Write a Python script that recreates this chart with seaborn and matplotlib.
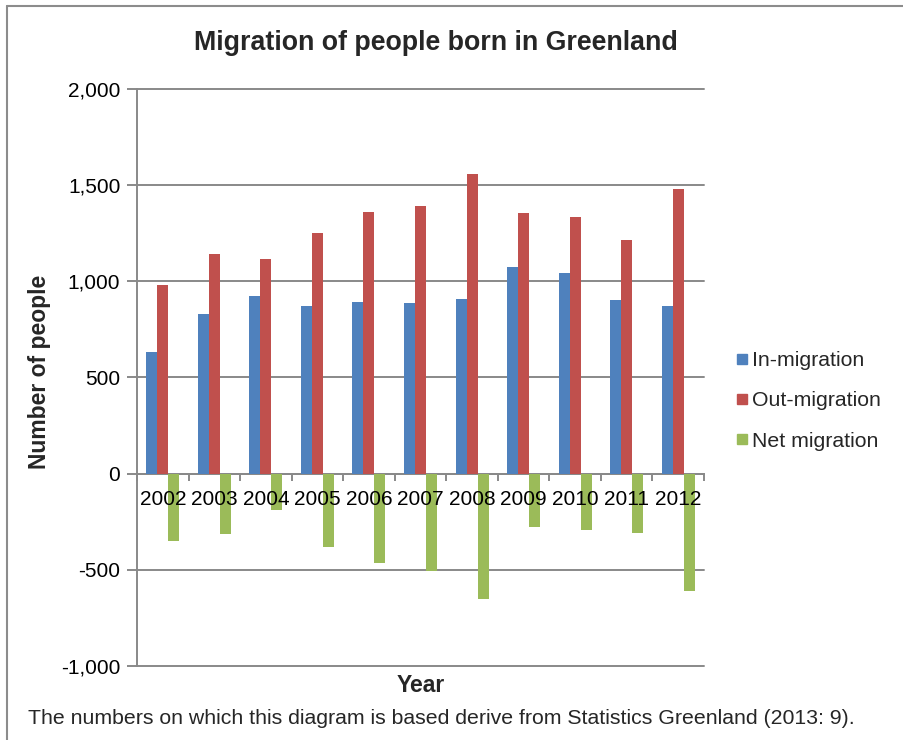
import matplotlib
matplotlib.use("Agg")
import matplotlib.pyplot as plt
from matplotlib.lines import Line2D
import matplotlib.transforms as mtransforms
import seaborn as sns
import pandas as pd
import numpy as np

years = ["2002", "2003", "2004", "2005", "2006", "2007", "2008", "2009", "2010", "2011", "2012"]
in_migration = [630, 827, 924, 872, 891, 886, 906, 1076, 1043, 903, 872]
out_migration = [982, 1140, 1114, 1252, 1358, 1392, 1558, 1353, 1334, 1214, 1481]
net_migration = [-352, -313, -190, -380, -467, -506, -652, -277, -291, -311, -609]
series_names = ["In-migration", "Out-migration", "Net migration"]
colors = ["#4F81BD", "#C0504D", "#9BBB59"]
y_ticks = [-1000, -500, 0, 500, 1000, 1500, 2000]

df = pd.DataFrame({
    "Year": years * 3,
    "Series": [series_names[0]] * len(years) + [series_names[1]] * len(years) + [series_names[2]] * len(years),
    "Value": in_migration + out_migration + net_migration,
})

sns.set_theme(style="white")
plt.rcParams["font.family"] = ["Liberation Sans", "DejaVu Sans"]

W, H = 904, 740
fig = plt.figure(figsize=(W / 100, H / 100), dpi=100)
left, right, top, bottom = 137, 704, 88.7, 666
ax = fig.add_axes([left / W, 1 - bottom / H, (right - left) / W, (bottom - top) / H])

sns.barplot(data=df, x="Year", y="Value", hue="Series", hue_order=series_names,
            palette=colors, width=0.64, saturation=1, ax=ax, legend=False,
            edgecolor="none", linewidth=0)

grid_col = "#898989"
ax.set_ylim(-1000, 2000)
ax.set_xlim(-0.5, len(years) - 0.5)
ax.set_yticks(y_ticks)
ax.set_yticklabels([f"{v:,}" for v in y_ticks], fontsize=15, color="black")
ax.yaxis.grid(True, color=grid_col, linewidth=1.4)
ax.xaxis.grid(False)
ax.set_axisbelow(True)
for gl in ax.yaxis.get_gridlines():
    gl.set_clip_on(False)

ax.spines["top"].set_visible(False)
ax.spines["right"].set_visible(False)
ax.spines["left"].set_color(grid_col)
ax.spines["left"].set_linewidth(1.4)
ax.spines["bottom"].set_position(("data", 0))
ax.spines["bottom"].set_color(grid_col)
ax.spines["bottom"].set_linewidth(1.4)
ax.spines["bottom"].set_zorder(0.5)

ax.tick_params(axis="y", which="major", direction="out", length=7, width=1.4, color=grid_col, pad=5, left=True)
ax.set_xticks(np.arange(len(years) + 1) - 0.5)
ax.set_xticklabels([])
ax.tick_params(axis="x", which="major", direction="out", length=5, width=1.4, color=grid_col, bottom=True)

# year labels drawn on top of the bars
offset = mtransforms.ScaledTranslation(0, -26 / 100, fig.dpi_scale_trans)
for i, yr in enumerate(years):
    ax.text(i, 0, yr, ha="center", va="center", fontsize=15, color="black", zorder=10,
            transform=ax.transData + offset)

ax.set_xlabel("")
ax.set_ylabel("")

fig.text(436 / W, 1 - 43 / H, "Migration of people born in Greenland",
         ha="center", va="center", fontsize=19.3, fontweight="bold")
fig.text(40 / W, 1 - 371.5 / H, "Number of people", rotation=90, ha="center", va="center",
         fontsize=16.5, fontweight="bold")
fig.text((left + right) / 2 / W, 1 - 686 / H, "Year", ha="center", va="center",
         fontsize=16.5, fontweight="bold")
fig.text(28 / W, 1 - 718 / H,
         "The numbers on which this diagram is based derive from Statistics Greenland (2013: 9).",
         ha="left", va="center", fontsize=15.3)

handles = [Line2D([], [], marker="s", linestyle="", markersize=7.5, color=c) for c in colors]
fig.legend(handles, series_names, loc="center left", bbox_to_anchor=(736 / W, 1 - 401 / H),
           frameon=False, fontsize=15.3, handlelength=0.6, handletextpad=0.15,
           labelspacing=1.0, borderpad=0, borderaxespad=0)

fig.add_artist(Line2D([7 / W, 7 / W], [0, 1 - 5.5 / H], transform=fig.transFigure, color="#8c8c8c", linewidth=1.5))
fig.add_artist(Line2D([7 / W, 1], [1 - 5.5 / H, 1 - 5.5 / H], transform=fig.transFigure, color="#8c8c8c", linewidth=1.5))

fig.savefig("out.png", dpi=100)
